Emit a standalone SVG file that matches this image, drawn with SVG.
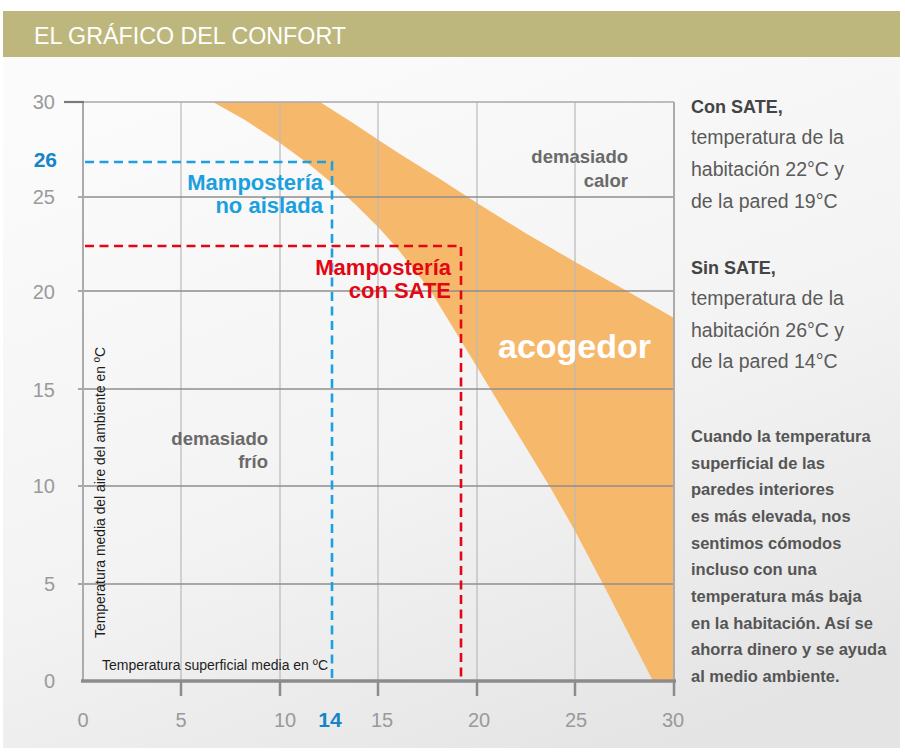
<svg xmlns="http://www.w3.org/2000/svg" width="905" height="753" viewBox="0 0 905 753">
<defs>
<linearGradient id="bg" x1="0.25" y1="0" x2="0.75" y2="1">
<stop offset="0" stop-color="#fbfbfb"/>
<stop offset="0.55" stop-color="#f3f3f3"/>
<stop offset="1" stop-color="#e4e4e4"/>
</linearGradient>
<style>
.hg{stroke:#8e8e8e;stroke-width:1.3;fill:none}
.vg{stroke:#b9b9b9;stroke-width:1.2;fill:none}
.ax{stroke:#8c8c8c;fill:none}
.tl{font-family:"Liberation Sans",Arial,sans-serif;font-size:20px;fill:#9a9a9a}
.tb{font-family:"Liberation Sans",Arial,sans-serif;font-size:21px;font-weight:bold;fill:#1585c8}
.zone{font-family:"Liberation Sans",Arial,sans-serif;font-size:18.5px;font-weight:bold;fill:#6a6a6a;text-anchor:end}
.lab{font-family:"Liberation Sans",Arial,sans-serif;font-size:22px;font-weight:bold;text-anchor:end}
.axt{font-family:"Liberation Sans",Arial,sans-serif;font-size:14px;fill:#1e1e1e}
.rt{font-family:"Liberation Sans",Arial,sans-serif;font-size:19.5px;fill:#5a5a5a}
.rb{font-family:"Liberation Sans",Arial,sans-serif;font-size:18px;font-weight:bold;fill:#444444}
.pb{font-family:"Liberation Sans",Arial,sans-serif;font-size:16.5px;font-weight:bold;fill:#555555}
.dash{fill:none;stroke-width:2.6;stroke-dasharray:9 5.5}
</style>
</defs>
<rect x="0" y="0" width="905" height="753" fill="#ffffff"/>
<g id="panel">
<rect x="3" y="57" width="897" height="691" fill="url(#bg)"/>
</g>
<g id="header">
<rect x="3" y="11" width="897" height="46" fill="#bdb77d"/>
<text x="34" y="44" font-family="Liberation Sans, Arial, sans-serif" font-size="23" fill="#ffffff" textLength="312" lengthAdjust="spacingAndGlyphs">EL GRÁFICO DEL CONFORT</text>
</g>
<g id="comfort-zone">
<path d="M213,102 L320,102 L353,123 L380,141 L400,154 L440,179 L477,203 L527,234 L577,263 L627,291 L674,318 L674,681 L653,681 L603,584 L575,531 L550,487 L497,400 L477,367 L430,290 L397,248 L380,229 L357,206 L333,184 L310,165 L280,143 L245,120 Z" fill="#f6b96b"/>
</g>
<g id="grid">
<line class="vg" x1="181" y1="102" x2="181" y2="681"/>
<line class="vg" x1="280" y1="102" x2="280" y2="681"/>
<line class="vg" x1="378" y1="102" x2="378" y2="681"/>
<line class="vg" x1="477" y1="102" x2="477" y2="681"/>
<line class="vg" x1="575" y1="102" x2="575" y2="681"/>
<line x1="83" y1="102" x2="674" y2="102" stroke="#a8a8a8" stroke-width="1.4"/>
<line class="hg" x1="78" y1="197" x2="674" y2="197"/>
<line class="hg" x1="78" y1="291" x2="674" y2="291"/>
<line class="hg" x1="78" y1="389" x2="674" y2="389"/>
<line class="hg" x1="78" y1="486" x2="674" y2="486"/>
<line class="hg" x1="78" y1="584" x2="674" y2="584"/>
<line x1="83" y1="102" x2="83" y2="681" stroke="#ababab" stroke-width="2"/>
<line x1="674" y1="102" x2="674" y2="681" stroke="#ababab" stroke-width="2"/>
<line x1="64" y1="102" x2="84" y2="102" stroke="#7a7a7a" stroke-width="2.2"/>
</g>
<g id="x-axis">
<line class="ax" x1="81" y1="681" x2="676" y2="681" stroke-width="3.5"/>
<line class="ax" x1="181" y1="681" x2="181" y2="696" stroke-width="2.5"/>
<line class="ax" x1="280" y1="681" x2="280" y2="696" stroke-width="2.5"/>
<line class="ax" x1="378" y1="681" x2="378" y2="696" stroke-width="2.5"/>
<line class="ax" x1="477" y1="681" x2="477" y2="696" stroke-width="2.5"/>
<line class="ax" x1="575" y1="681" x2="575" y2="696" stroke-width="2.5"/>
<line class="ax" x1="674" y1="681" x2="674" y2="696" stroke-width="2.5"/>
<g text-anchor="middle">
<text class="tl" x="83" y="727">0</text>
<text class="tl" x="181" y="727">5</text>
<text class="tl" x="285" y="727">10</text>
<text class="tb" x="330" y="727">14</text>
<text class="tl" x="382" y="727">15</text>
<text class="tl" x="479" y="727">20</text>
<text class="tl" x="576" y="727">25</text>
<text class="tl" x="673" y="727">30</text>
</g>
<text class="axt" x="102" y="670" textLength="226" lengthAdjust="spacingAndGlyphs">Temperatura superficial media en ºC</text>
</g>
<g id="y-axis">
<g text-anchor="end">
<text class="tl" x="55" y="109">30</text>
<text class="tb" x="57" y="167">26</text>
<text class="tl" x="55" y="204">25</text>
<text class="tl" x="55" y="299">20</text>
<text class="tl" x="55" y="397">15</text>
<text class="tl" x="55" y="493">10</text>
<text class="tl" x="55" y="591">5</text>
<text class="tl" x="55" y="688">0</text>
</g>
<text class="axt" transform="translate(105,638) rotate(-90)" x="0" y="0" textLength="291" lengthAdjust="spacingAndGlyphs">Temperatura media del aire del ambiente en ºC</text>
</g>
<g id="connectors">
<path class="dash" stroke="#1ba1e2" d="M85,162 L332,162 L332,681"/>
<path class="dash" stroke="#e30613" d="M85,246 L461,246 L461,681"/>
</g>
<g id="label-no-aislada">
<text class="lab" fill="#1a9fdf" x="323" y="190">Mampostería</text>
<text class="lab" fill="#1a9fdf" x="323" y="213">no aislada</text>
</g>
<g id="label-con-sate">
<text class="lab" fill="#e30613" x="451" y="275">Mampostería</text>
<text class="lab" fill="#e30613" x="451" y="298">con SATE</text>
</g>
<g id="zone-calor">
<text class="zone" x="628" y="163">demasiado</text>
<text class="zone" x="628" y="187">calor</text>
</g>
<g id="zone-frio">
<text class="zone" x="268" y="445">demasiado</text>
<text class="zone" x="268" y="468">frío</text>
</g>
<g id="zone-acogedor">
<text x="498" y="358" font-family="Liberation Sans, Arial, sans-serif" font-size="34" font-weight="bold" fill="#ffffff">acogedor</text>
</g>
<g id="note-con-sate">
<text class="rb" x="691" y="113">Con SATE,</text>
<text class="rt" x="691" y="144">temperatura de la</text>
<text class="rt" x="691" y="176">habitación 22°C y</text>
<text class="rt" x="691" y="208">de la pared 19°C</text>
</g>
<g id="note-sin-sate">
<text class="rb" x="691" y="274">Sin SATE,</text>
<text class="rt" x="691" y="305">temperatura de la</text>
<text class="rt" x="691" y="337">habitación 26°C y</text>
<text class="rt" x="691" y="368">de la pared 14°C</text>
</g>
<g id="note-explanation">
<text class="pb" x="691" y="442">Cuando la temperatura</text>
<text class="pb" x="691" y="468.7">superficial de las</text>
<text class="pb" x="691" y="495.3">paredes interiores</text>
<text class="pb" x="691" y="522">es más elevada, nos</text>
<text class="pb" x="691" y="548.7">sentimos cómodos</text>
<text class="pb" x="691" y="575.3">incluso con una</text>
<text class="pb" x="691" y="602">temperatura más baja</text>
<text class="pb" x="691" y="628.7">en la habitación. Así se</text>
<text class="pb" x="691" y="655.3">ahorra dinero y se ayuda</text>
<text class="pb" x="691" y="682">al medio ambiente.</text>
</g>
</svg>
